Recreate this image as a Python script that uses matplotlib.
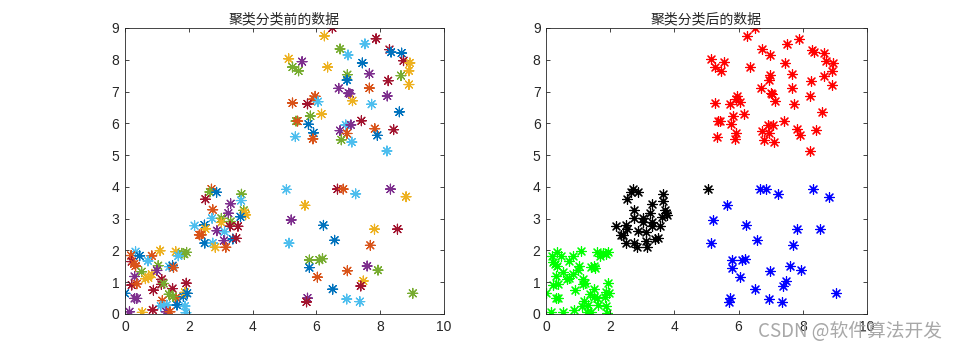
import numpy as np
import matplotlib.pyplot as plt

# MATLAB default colour order
matlab_colors = {
    'B': '#0072BD', 'O': '#D95319', 'Y': '#EDB120', 'P': '#7E2F8E',
    'G': '#77AC30', 'C': '#4DBEEE', 'R': '#A2142F',
}

# upper right cluster (red after clustering)
red_x = [6.50, 6.25, 7.87, 7.52, 6.74, 8.29, 8.34, 8.67, 6.99, 5.13, 5.55, 8.73, 8.93, 7.44,
         5.25, 5.44, 6.35, 8.90, 6.97, 7.66, 8.65, 6.96, 8.25, 8.90, 6.70, 7.66, 7.01, 7.05,
         8.22, 5.96, 5.91, 7.13, 6.05, 5.25, 5.72, 7.73, 8.60, 6.16, 5.81, 5.36, 5.41, 7.41,
         5.75, 6.92, 7.08, 8.42, 7.83, 6.74, 5.91, 6.96, 7.91, 5.34, 5.89, 6.78, 7.11, 8.21]
red_y = [9.00, 8.75, 8.66, 8.50, 8.34, 8.32, 8.24, 8.21, 8.15, 8.03, 7.94, 7.97, 7.90, 7.90,
         7.77, 7.65, 7.77, 7.65, 7.53, 7.56, 7.50, 7.36, 7.34, 7.22, 7.10, 7.11, 6.95, 6.93,
         6.86, 6.85, 6.76, 6.71, 6.68, 6.64, 6.61, 6.60, 6.36, 6.29, 6.23, 6.07, 6.07, 6.08,
         5.97, 5.95, 5.95, 5.80, 5.83, 5.77, 5.70, 5.68, 5.62, 5.58, 5.51, 5.48, 5.41, 5.13]
red_c = list('RYRCGRBBCYPRYBGGYYGPGBRYPOPPPOOYCORCBYGGORBCPROPBOBCOGCC')

# lower right cluster (blue after clustering)
blue_x = [6.66, 6.84, 7.23, 8.32, 8.81, 5.64, 5.21, 6.22, 7.82, 8.54, 5.14, 6.57, 7.69, 5.78,
          6.09, 6.19, 5.78, 7.59, 7.93, 6.97, 6.03, 7.47, 7.39, 6.51, 9.02, 5.72, 5.69, 6.95, 7.36]
blue_y = [3.93, 3.93, 3.78, 3.93, 3.69, 3.42, 2.96, 2.79, 2.67, 2.67, 2.23, 2.32, 2.16, 1.70,
          1.70, 1.74, 1.46, 1.51, 1.38, 1.36, 1.16, 1.04, 0.88, 0.78, 0.65, 0.50, 0.38, 0.47, 0.39]
blue_c = list('ROCPYYPBYRCBOGGGBPGOOYRBGPRCC')

# middle cluster (black after clustering)
black_x = [5.06, 2.71, 2.66, 2.87, 2.52, 3.65, 3.64, 3.31, 2.75, 3.72, 3.75, 3.78, 3.24, 3.62,
           2.73, 3.02, 3.02, 3.31, 2.18, 2.49, 3.29, 3.54, 2.52, 2.88, 3.12, 2.33, 2.39, 3.38,
           3.49, 3.10, 2.50, 2.75, 2.83, 3.16]
black_y = [3.92, 3.93, 3.84, 3.83, 3.61, 3.77, 3.57, 3.47, 3.28, 3.26, 3.19, 3.12, 3.17, 3.06,
           3.01, 3.01, 2.88, 2.91, 2.78, 2.80, 2.76, 2.76, 2.68, 2.62, 2.59, 2.49, 2.49, 2.36,
           2.38, 2.31, 2.23, 2.23, 2.10, 2.10]
black_c = list('COGBRGCPOGYYPBCGYGCBRRYPCOOBRPBCYO')

# lower left cluster (green after clustering)
green_x = [0.33, 0.19, 0.46, 0.84, 1.10, 0.72, 0.21, 0.29, 0.33, 1.59, 1.78, 1.93, 1.86, 1.67,
           1.04, 1.39, 1.49, 1.52, 0.52, 0.64, 0.73, 0.84, 0.30, 1.00, 1.15, 1.14, 1.21, 1.92,
           0.21, 0.37, 0.00, 0.89, 1.49, 1.38, 1.60, 0.30, 0.37, 1.17, 1.83, 1.88, 1.95, 1.12,
           1.31, 1.63, 1.88, 0.14, 0.54, 0.87, 1.29, 1.41, 1.91, 1.50]
green_y = [1.96, 1.84, 1.83, 1.83, 1.99, 1.67, 1.65, 1.58, 1.51, 1.96, 1.91, 1.94, 1.88, 1.83,
           1.52, 1.49, 1.52, 1.46, 1.33, 1.11, 1.14, 1.25, 1.18, 1.37, 1.09, 0.93, 0.96, 0.97,
           0.91, 0.95, 0.65, 0.75, 0.80, 0.62, 0.51, 0.49, 0.49, 0.42, 0.55, 0.68, 0.65, 0.25,
           0.28, 0.28, 0.25, 0.07, 0.05, 0.13, 0.07, 0.07, 0.04, 0.55]
green_c = list('COBOYCROOYGGGCGCBOGYYYPPRRGRROBRRGOPPOBYBCCBCPYRPOCG')

clusters = [
    (red_x, red_y, red_c, 'r'),
    (blue_x, blue_y, blue_c, 'b'),
    (black_x, black_y, black_c, 'k'),
    (green_x, green_y, green_c, '#00FF00'),
]

titles = ['聚类分类前的数据', '聚类分类后的数据']

plt.rcParams['font.family'] = ['Liberation Sans', 'DejaVu Sans']

fig = plt.figure(figsize=(9.58, 3.54), dpi=100)
ax1 = fig.add_axes([0.1305, 0.113, 0.333, 0.808])
ax2 = fig.add_axes([0.570, 0.113, 0.335, 0.808])

marker = (8, 2, 0)
for xs, ys, cs, cc in clusters:
    ax1.scatter(xs, ys, c=[matlab_colors[k] for k in cs], marker=marker, s=50, linewidths=0.85)
    ax2.scatter(xs, ys, c=cc, marker=marker, s=50, linewidths=0.85)

for ax, t in zip([ax1, ax2], titles):
    ax.set_xlim(0, 10)
    ax.set_ylim(0, 9)
    ax.set_xticks(range(0, 11, 2))
    ax.set_yticks(range(0, 10))
    ax.tick_params(direction='in', top=True, right=True, length=3, width=0.6,
                   labelsize=10, colors='#262626', pad=4)
    for s in ax.spines.values():
        s.set_linewidth(0.6)
        s.set_color('#262626')
    ax.set_title(t, fontsize=10, color='#262626', family=['Noto Sans CJK SC'], pad=3)

# CSDN watermark sits over the right plot's last tick label, as in the original
fig.text(0.983, 0.035, 'CSDN @软件算法开发', ha='right', va='bottom', fontsize=13.5,
         color='#a8a8a8', family=['Noto Sans CJK SC', 'DejaVu Sans'])

fig.savefig('out.png', dpi=100)
